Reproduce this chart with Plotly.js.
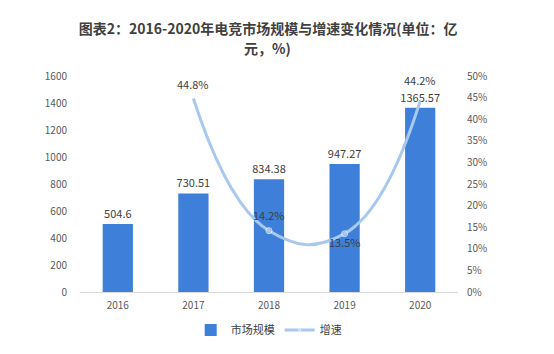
<!DOCTYPE html>
<html><head><meta charset="utf-8">
<script src="https://cdn.plot.ly/plotly-3.0.1.min.js"></script>
<style>html,body{margin:0;padding:0;background:#fff}#c{width:554px;height:354px}</style>
</head><body><div id="c"></div>
<script>
const years = ['2016','2017','2018','2019','2020'];
const marketSize = [504.6, 730.51, 834.38, 947.27, 1365.57];
const marketLabels = ['504.6','730.51','834.38','947.27','1365.57'];
const growth = [null, 0.448, 0.142, 0.135, 0.442];
const growthLabels = ['', '44.8%', '14.2%', '13.5%', '44.2%'];
const leftTicks = [0,200,400,600,800,1000,1200,1400,1600];
const rightTicks = [0,0.05,0.1,0.15,0.2,0.25,0.3,0.35,0.4,0.45,0.5];
const rightTickText = ['0%','5%','10%','15%','20%','25%','30%','35%','40%','45%','50%'];
const labelShift = [0, 14, 16, -8, 21];
const titleLine1 = '图表2：2016-2020年电竞市场规模与增速变化情况(单位：亿';
const titleLine2 = '元，%)';

const font = 'Microsoft YaHei, "Noto Sans CJK SC", sans-serif';
const traces = [
  {type:'bar', x:years, y:marketSize, name:'市场规模', marker:{color:'#3d7fd9'},
   width:0.4, text:marketLabels, textposition:'outside', cliponaxis:false, constraintext:'none',
   textfont:{size:11, color:'#404040', family:font}},
  {type:'scatter', mode:'lines+markers', x:years, y:growth, name:'增速', yaxis:'y2',
   line:{color:'#a8c8ee', width:3, shape:'spline', smoothing:1.3},
   marker:{color:'#a8c8ee', size:[0,0,6,6,0]},
   cliponaxis:false, connectgaps:false}
];
const annotations = [];
years.forEach((yr, i) => {
  if (growth[i] == null) return;
  annotations.push({x: i, y: growth[i], xref:'x', yref:'y2', text: growthLabels[i], showarrow:false,
    yshift: labelShift[i], font:{size:11, color:'#404040', family:font}});
});
annotations.push({xref:'paper', yref:'paper', x:0.497, y:1.13, xanchor:'center', yanchor:'middle',
  text:'<b>' + titleLine2 + '</b>', showarrow:false, font:{size:14, color:'#404040', family:font}});
const layout = {
  width:554, height:354,
  margin:{l:80, r:96, t:76, b:62},
  paper_bgcolor:'#fff', plot_bgcolor:'#fff',
  font:{family:font, color:'#595959', size:10},
  title:{text:'<b>' + titleLine1 + '</b>',
         x:0.484, xanchor:'center', y:0.918, yanchor:'middle', font:{size:14, color:'#404040', family:font}},
  annotations: annotations,
  xaxis:{type:'category', range:[-0.5, 4.5], showline:true, linecolor:'#d9d9d9', linewidth:1, ticks:'', showgrid:false,
         tickfont:{size:10, color:'#595959'}, ticklabelstandoff:4},
  yaxis:{range:[0,1600], tickvals:leftTicks, showgrid:false, zeroline:false, showline:false,
         tickfont:{size:10, color:'#595959'}, ticklabelstandoff:12},
  yaxis2:{range:[0,0.5], overlaying:'y', side:'right', tickvals:rightTicks, ticktext:rightTickText,
          showgrid:false, zeroline:false, showline:false, tickfont:{size:10, color:'#595959'},
          ticklabelstandoff:8},
  showlegend:true,
  legend:{orientation:'h', x:0.485, xanchor:'center', xref:'container', y:0.068, yref:'container', yanchor:'middle',
          font:{size:11, color:'#404040'}}
};
Plotly.newPlot('c', traces, layout, {displayModeBar:false, staticPlot:true});
</script></body></html>
